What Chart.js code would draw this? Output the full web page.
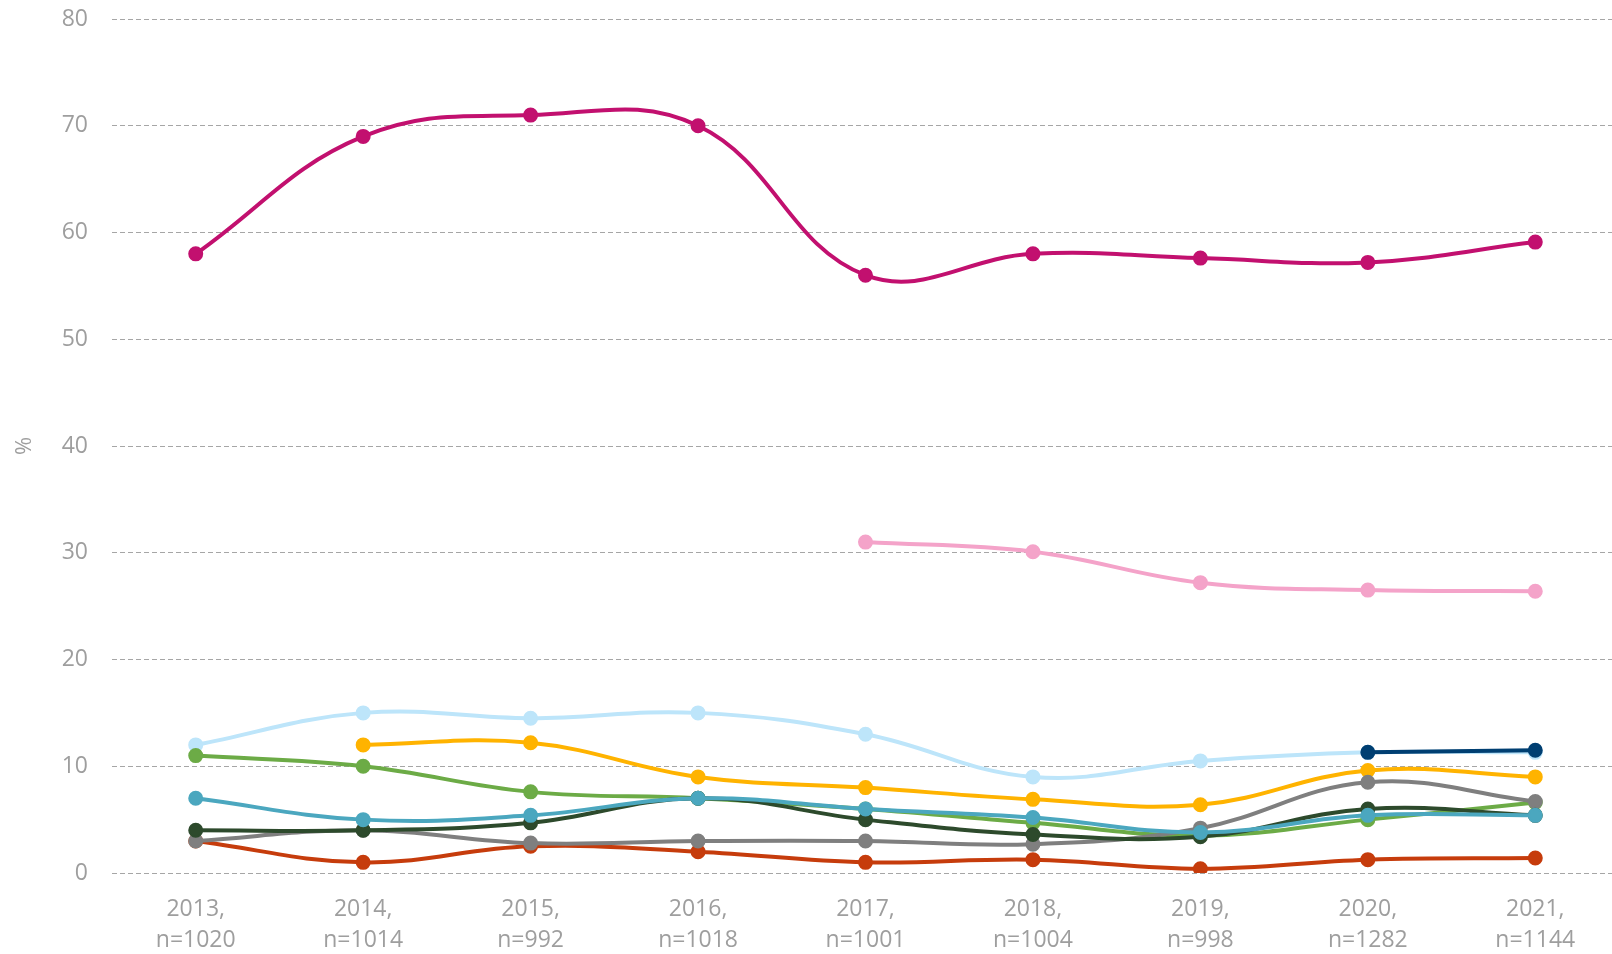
<!DOCTYPE html>
<html>
<head>
<meta charset="utf-8">
<script src="https://cdn.jsdelivr.net/npm/chart.js@4"></script>
<style>
  html, body { margin: 0; padding: 0; background: #fff; overflow: hidden; }
  #wrap { width: 1619px; height: 954px; position: relative; }
</style>
</head>
<body>
<div id="wrap"><canvas id="myChart"></canvas></div>
<script>
'use strict';

// categories (two-line labels)
const years = ['2013,', '2014,', '2015,', '2016,', '2017,', '2018,', '2019,', '2020,', '2021,'];
const sampleSizes = ['n=1020', 'n=1014', 'n=992', 'n=1018', 'n=1001', 'n=1004', 'n=998', 'n=1282', 'n=1144'];

// series values (null = no value that year)
const navyValues = [null, null, null, null, null, null, null, 11.3, 11.5];
const magentaValues = [58, 69, 71, 70, 56, 58, 57.6, 57.2, 59.1];
const pinkValues = [null, null, null, null, 31, 30.1, 27.2, 26.5, 26.4];
const tealValues = [7, 5, 5.4, 7, 6, 5.2, 3.8, 5.4, 5.4];
const lightBlueValues = [12, 15, 14.5, 15, 13, 9, 10.5, 11.3, 11.3];
const orangeValues = [null, 12, 12.2, 9, 8, 6.9, 6.4, 9.6, 9];
const greenValues = [11, 10, 7.6, 7, 6, 4.7, 3.5, 5, 6.6];
const darkGreenValues = [4, 4, 4.7, 7, 5, 3.6, 3.4, 6, 5.4];
const grayValues = [3, 4, 2.8, 3, 3, 2.7, 4.2, 8.5, 6.7];
const redValues = [3, 1, 2.5, 2, 1, 1.25, 0.4, 1.25, 1.4];

// y axis ticks
const yMin = 0;
const yMax = 80;
const yStep = 10;

const labels = years.map((y, i) => [y, sampleSizes[i]]);

// helper to build a line dataset
function makeLine(name, data, color) {
    return {
        label: name,
        data: data,
        borderColor: color,
        backgroundColor: color,
        pointBackgroundColor: color,
        pointBorderColor: color,
        borderWidth: 4,
        pointRadius: 6.5,
        pointBorderWidth: 2,
        pointHoverRadius: 6.5,
        tension: 0.4,
        fill: false,
        spanGaps: false
    };
}

// first dataset is drawn on top
const datasets = [
    makeLine('navy', navyValues, '#003F72'),
    makeLine('magenta', magentaValues, '#C2106F'),
    makeLine('pink', pinkValues, '#F4A3C9'),
    makeLine('teal', tealValues, '#4BA7BF'),
    makeLine('dark green', darkGreenValues, '#2D4A2C'),
    makeLine('gray', grayValues, '#7F7F7F'),
    makeLine('green', greenValues, '#6CAB46'),
    makeLine('orange', orangeValues, '#FFB300'),
    makeLine('light blue', lightBlueValues, '#BDE5FA'),
    makeLine('red', redValues, '#C63C0C')
];

const axisGray = '#9E9E9E';
const tickFont = { family: 'Open Sans', size: 23, lineHeight: 1.35 };

let config = {
    type: 'line',
    data: {
        labels: labels,
        datasets: datasets
    },
    options: {
        responsive: true,
        maintainAspectRatio: false,
        animation: false,
        layout: { autoPadding: false, padding: { top: 19, right: 0, left: 0, bottom: 0 } },
        plugins: {
            legend: { display: false },
            tooltip: { enabled: false }
        },
        scales: {
            x: {
                offset: true,
                afterFit: function (axis) {
                    axis.height = 81;
                    axis.paddingLeft = 0;
                    axis.paddingRight = 0;
                },
                grid: { display: false, drawTicks: false },
                border: { display: false },
                ticks: {
                    color: axisGray,
                    font: tickFont,
                    padding: 21,
                    maxRotation: 0,
                    autoSkip: false
                }
            },
            y: {
                min: yMin,
                max: yMax,
                afterFit: function (axis) {
                    axis.width = 112;
                    axis.paddingTop = 0;
                    axis.paddingBottom = 0;
                },
                title: {
                    display: true,
                    text: '%',
                    color: axisGray,
                    font: { family: 'Open Sans', size: 22 },
                    padding: { top: 12, bottom: 0 }
                },
                grid: {
                    color: '#A6A6A6',
                    lineWidth: 1,
                    drawTicks: false
                },
                border: { display: false, dash: [5, 3] },
                ticks: {
                    stepSize: yStep,
                    color: axisGray,
                    font: { family: 'Open Sans', size: 23 },
                    padding: 24
                }
            }
        }
    }
};

const ctx = document.getElementById('myChart').getContext('2d');
const myChart = new Chart(ctx, config);
</script>
</body>
</html>
